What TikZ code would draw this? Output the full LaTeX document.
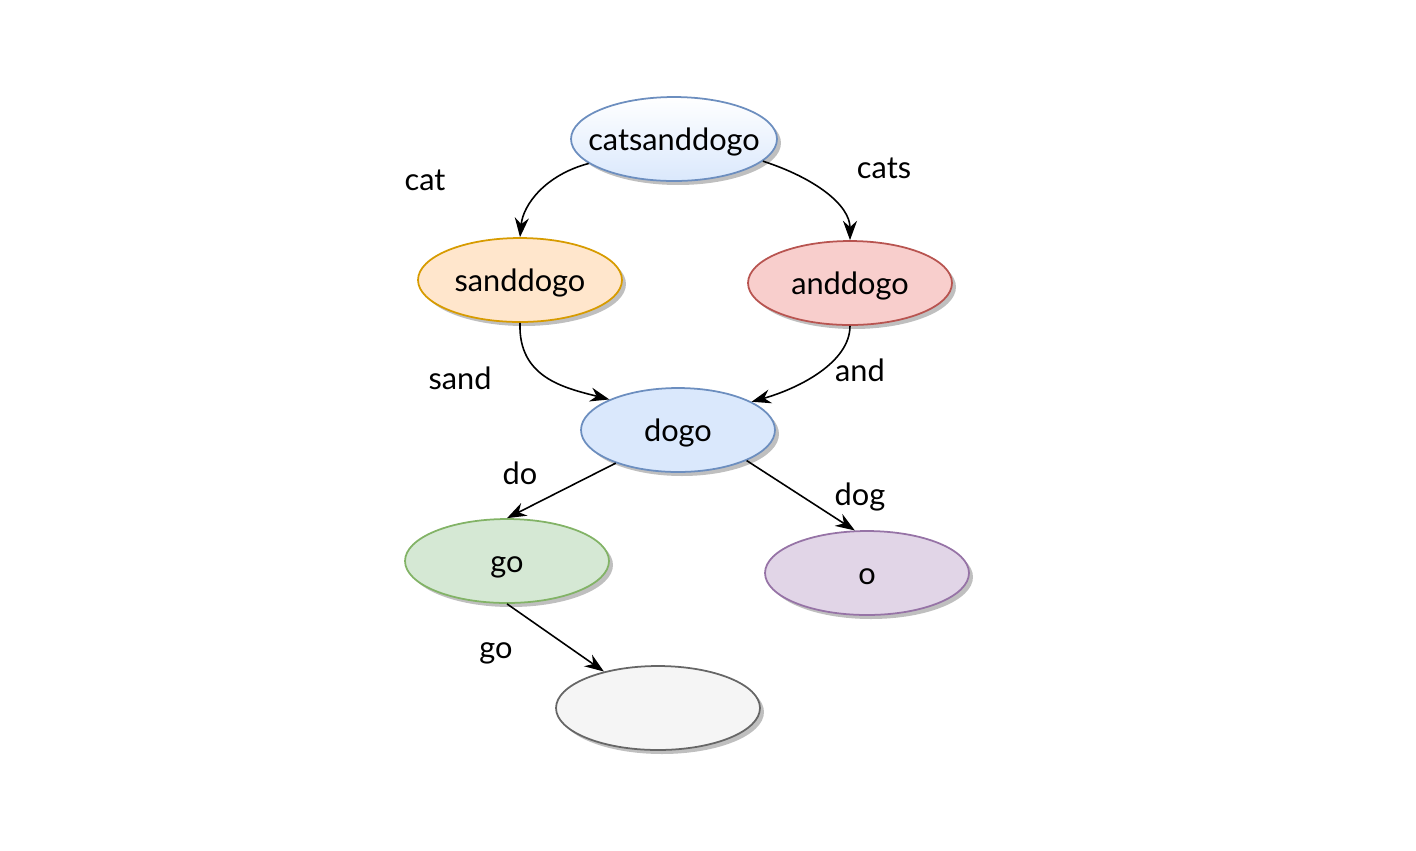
\documentclass[tikz,border=0pt]{standalone}
\usepackage{fontspec}
\setmainfont{Lato}
\usetikzlibrary{shapes.geometric,shadows,arrows.meta}
\definecolor{bluefill}{HTML}{DAE8FC}\definecolor{bluedraw}{HTML}{6C8EBF}
\definecolor{orfill}{HTML}{FFE6CC}\definecolor{ordraw}{HTML}{D79B00}
\definecolor{redfill}{HTML}{F8CECC}\definecolor{reddraw}{HTML}{B85450}
\definecolor{grfill}{HTML}{D5E8D4}\definecolor{grdraw}{HTML}{82B366}
\definecolor{pufill}{HTML}{E1D5E7}\definecolor{pudraw}{HTML}{9673A6}
\definecolor{gyfill}{HTML}{F5F5F5}\definecolor{gydraw}{HTML}{666666}
\tikzset{
  ell/.style={ellipse, minimum width=4.08cm, minimum height=1.68cm, inner sep=0pt, line width=1pt,
    text height=15pt, text depth=1.4pt,
    drop shadow={shadow xshift=0.08cm, shadow yshift=-0.08cm, fill=black!25, opacity=1},
    font=\fontsize{17.5}{20}\selectfont},
  lbl/.style={font=\fontsize{17.5}{20}\selectfont, inner sep=0pt},
  edge/.style={-{Stealth[length=11pt,width=8pt]}, line width=0.9pt, black}
}
\begin{document}
\begin{tikzpicture}[x=0.02cm,y=-0.02cm]
\useasboundingbox (0,0) rectangle (1416,850);
\node[ell, draw=bluedraw, top color=white, bottom color=bluefill, minimum width=4.12cm, inner xsep=-0.3cm] (top) at (674,139) {catsanddogo};
\node[ell, draw=ordraw, fill=orfill] (sd) at (520,280) {sanddogo};
\node[ell, draw=reddraw, fill=redfill] (ad) at (850,283) {anddogo};
\node[ell, draw=bluedraw, fill=bluefill, minimum width=3.88cm] (dogo) at (678,430) {dogo};
\node[ell, draw=grdraw, fill=grfill] (go) at (507,561) {go};
\node[ell, draw=pudraw, fill=pufill] (o) at (867,573) {o};
\node[ell, draw=gydraw, fill=gyfill] (em) at (658,708) {};

\draw[edge] (top.196) .. controls (545,175) and (523,205) .. (sd.north);
\draw[edge] (top.346) .. controls (815,178) and (850,205) .. (ad.north);
\draw[edge] (sd.south) .. controls (518,378) and (565,388) .. (dogo.156);
\draw[edge] (ad.south) .. controls (850,362) and (800,388) .. (dogo.21);
\draw[edge] (dogo.208) -- (go.north);
\draw[edge] (dogo.336) -- (o.106);
\draw[edge] (go.south) -- (em.146);

\node[lbl] (l1) at (425,180) {cat};
\node[lbl] (l2) at (884,168) {cats};
\node[lbl] (l3) at (460,378) {sand};
\node[lbl] (l4) at (860,370) {and};
\node[lbl] (l5) at (520,473) {do};
\node[lbl] (l6) at (860,497) {dog};
\node[lbl] (l7) at (496,653) {go};
\end{tikzpicture}
\end{document}
